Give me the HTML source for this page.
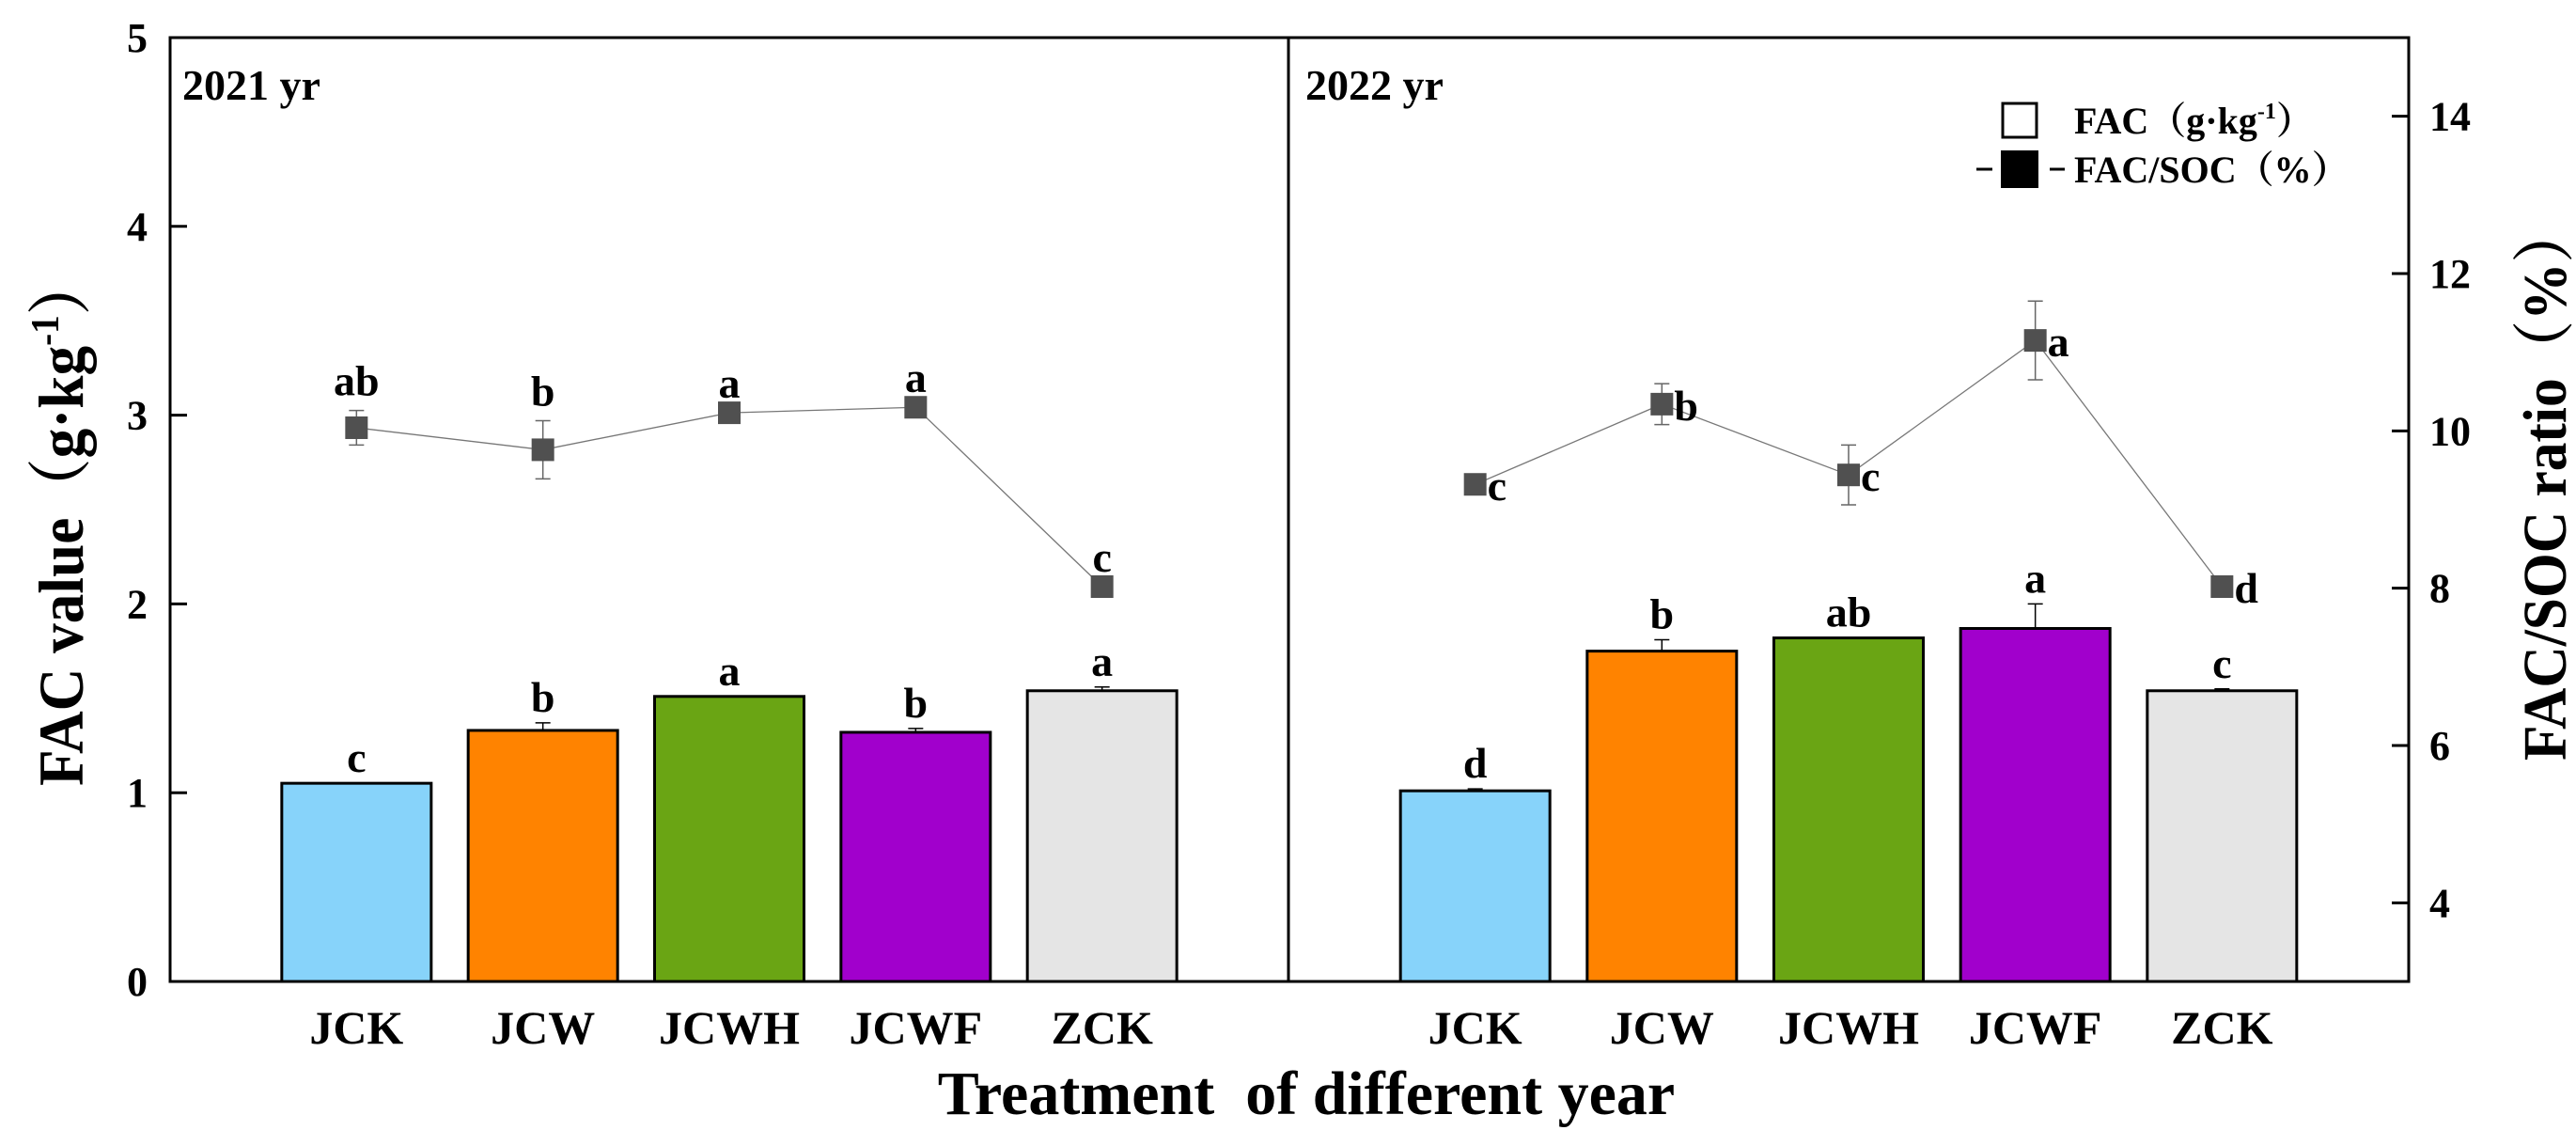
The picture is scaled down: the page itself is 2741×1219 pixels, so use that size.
<!DOCTYPE html>
<html><head><meta charset="utf-8"><style>
html,body{margin:0;padding:0;background:#fff;}
svg{display:block;}
text{font-family:"Liberation Serif","Noto Serif CJK SC",serif;font-weight:bold;fill:#000;}
</style></head>
<body>
<svg id="chart" width="2741" height="1219" viewBox="0 0 2741 1219" xmlns="http://www.w3.org/2000/svg">
<g id="marks"></g>
<g id="static">
  <text x="194" y="106" font-size="46">2021 yr</text>
  <text x="1389" y="106" font-size="46">2022 yr</text>
  <rect x="2131" y="110" width="36" height="36" fill="#fff" stroke="#000" stroke-width="3"/>
  <text x="2207" y="142" font-size="40">FAC（g·kg<tspan font-size="24" dy="-16">-1</tspan><tspan dy="16">）</tspan></text>
  <line x1="2103" y1="180" x2="2120" y2="180" stroke="#000" stroke-width="3"/>
  <rect x="2129" y="160" width="40" height="40" fill="#000"/>
  <line x1="2181" y1="180" x2="2197" y2="180" stroke="#000" stroke-width="3"/>
  <text x="2207" y="194" font-size="40">FAC/SOC（%）</text>
  <text x="1390" y="1185" font-size="66" text-anchor="middle">Treatment&#160; of different year</text>
  <text transform="translate(88,836) rotate(-90)" font-size="68" textLength="564" lengthAdjust="spacingAndGlyphs">FAC value（g·kg<tspan font-size="42" dy="-26">-1</tspan><tspan dy="26">）</tspan></text>
  <text transform="translate(2730,809) rotate(-90)" font-size="66" textLength="591" lengthAdjust="spacingAndGlyphs">FAC/SOC ratio（%）</text>
</g>
</svg>
<script>
const categories = ["JCK","JCW","JCWH","JCWF","ZCK"];
const fac2021 = [1.05,1.33,1.51,1.32,1.54];
const facErr2021 = [0.0,0.04,0.0,0.02,0.02];
const facLetters2021 = ["c","b","a","b","a"];
const fac2022 = [1.01,1.75,1.82,1.87,1.54];
const facErr2022 = [0.01,0.06,0.0,0.13,0.01];
const facLetters2022 = ["d","b","ab","a","c"];
const ratio2021 = [10.04,9.76,10.23,10.30,8.02];
const ratioErr2021 = [0.22,0.37,0.0,0.0,0.0];
const ratioLetters2021 = ["ab","b","a","a","c"];
const ratio2022 = [9.32,10.34,9.44,11.15,8.02];
const ratioErr2022 = [0.0,0.26,0.38,0.5,0.0];
const ratioLetters2022 = ["c","b","c","a","d"];
const leftTicks = [0,1,2,3,4,5];
const rightTicks = [4,6,8,10,12,14];
const barColors = ["#87d3fa","#ff8300","#6aa514","#a100cc","#e5e5e5"];

const NS="http://www.w3.org/2000/svg";
const svg=document.getElementById('chart');
const g=document.getElementById('marks');
const top_=40, bot=1044, L=181, M=1371, R=2563;
const yL=v=>bot-(v/5)*(bot-top_);
const yR=v=>bot-((v-3)/12)*(bot-top_);
function xC(panel,i){const x0=panel?M:L, x1=panel?R:M; return x0+(i+1)*(x1-x0)/6;}
function mk(tag,attrs,parent){const e=document.createElementNS(NS,tag);for(const k in attrs)e.setAttribute(k,attrs[k]);(parent||g).appendChild(e);return e;}
function txt(s,attrs){const e=mk('text',attrs);e.textContent=s;return e;}

[[fac2021,facErr2021,facLetters2021,ratio2021,ratioErr2021,ratioLetters2021],
 [fac2022,facErr2022,facLetters2022,ratio2022,ratioErr2022,ratioLetters2022]].forEach((d,p)=>{
  const [fac,fe,fl,rat,re,rl]=d;
  const bw=159;
  categories.forEach((c,i)=>{
    const x=xC(p,i);
    const b=mk('rect',{x:x-bw/2,y:yL(fac[i]),width:bw,height:bot-yL(fac[i]),fill:barColors[i],stroke:'#000','stroke-width':3});
    
    
    if(fe[i]>0){
      const ey=yL(fac[i]+fe[i]);
      const e1=mk('path',{d:`M${x} ${yL(fac[i])}V${ey}M${x-8} ${ey}H${x+8}`,stroke:'#000','stroke-width':1.5,fill:'none'});
      
      
    }
    const t=txt(fl[i],{x:x,y:yL(fac[i]+fe[i])-12,'font-size':46,'text-anchor':'middle'});
    
    
    const lab=txt(c,{x:x,y:1110,'font-size':50,'text-anchor':'middle'});
    
    
  });
  const pts=categories.map((c,i)=>xC(p,i)+','+yR(rat[i])).join(' ');
  const pl=mk('polyline',{points:pts,fill:'none',stroke:'#777','stroke-width':1.3});
  
  
  categories.forEach((c,i)=>{
    const x=xC(p,i), y=yR(rat[i]);
    if(re[i]>0){
      const y1=yR(rat[i]+re[i]), y2=yR(rat[i]-re[i]);
      const e=mk('path',{d:`M${x} ${y1}V${y2}M${x-8} ${y1}H${x+8}M${x-8} ${y2}H${x+8}`,stroke:'#666','stroke-width':1.5,fill:'none'});
      
      
    }
    const m=mk('rect',{x:x-12,y:y-12,width:24,height:24,fill:'#505050'});
    
    
    let t;
    if(p===0) t=txt(rl[i],{x:x,y:yR(rat[i]+re[i])-16,'font-size':46,'text-anchor':'middle'});
    else t=txt(rl[i],{x:x+13,y:y+17,'font-size':46});
    
    
  });
});

const frame=mk('path',{d:`M${L} ${top_}H${R}V${bot}H${L}Z M${M} ${top_}V${bot}`,fill:'none',stroke:'#000','stroke-width':3});


leftTicks.forEach(v=>{
  const y=yL(v);
  const tk=mk('line',{x1:L,x2:L+18,y1:y,y2:y,stroke:'#000','stroke-width':3});
  
  
  const t=txt(String(v),{x:157,y:y+15,'font-size':44,'text-anchor':'end'});
  
  
});
rightTicks.forEach(v=>{
  const y=yR(v);
  const tk=mk('line',{x1:R-18,x2:R,y1:y,y2:y,stroke:'#000','stroke-width':3});
  
  
  const t=txt(String(v),{x:2585,y:y+15,'font-size':44});
  
  
});
</script>
</body></html>
